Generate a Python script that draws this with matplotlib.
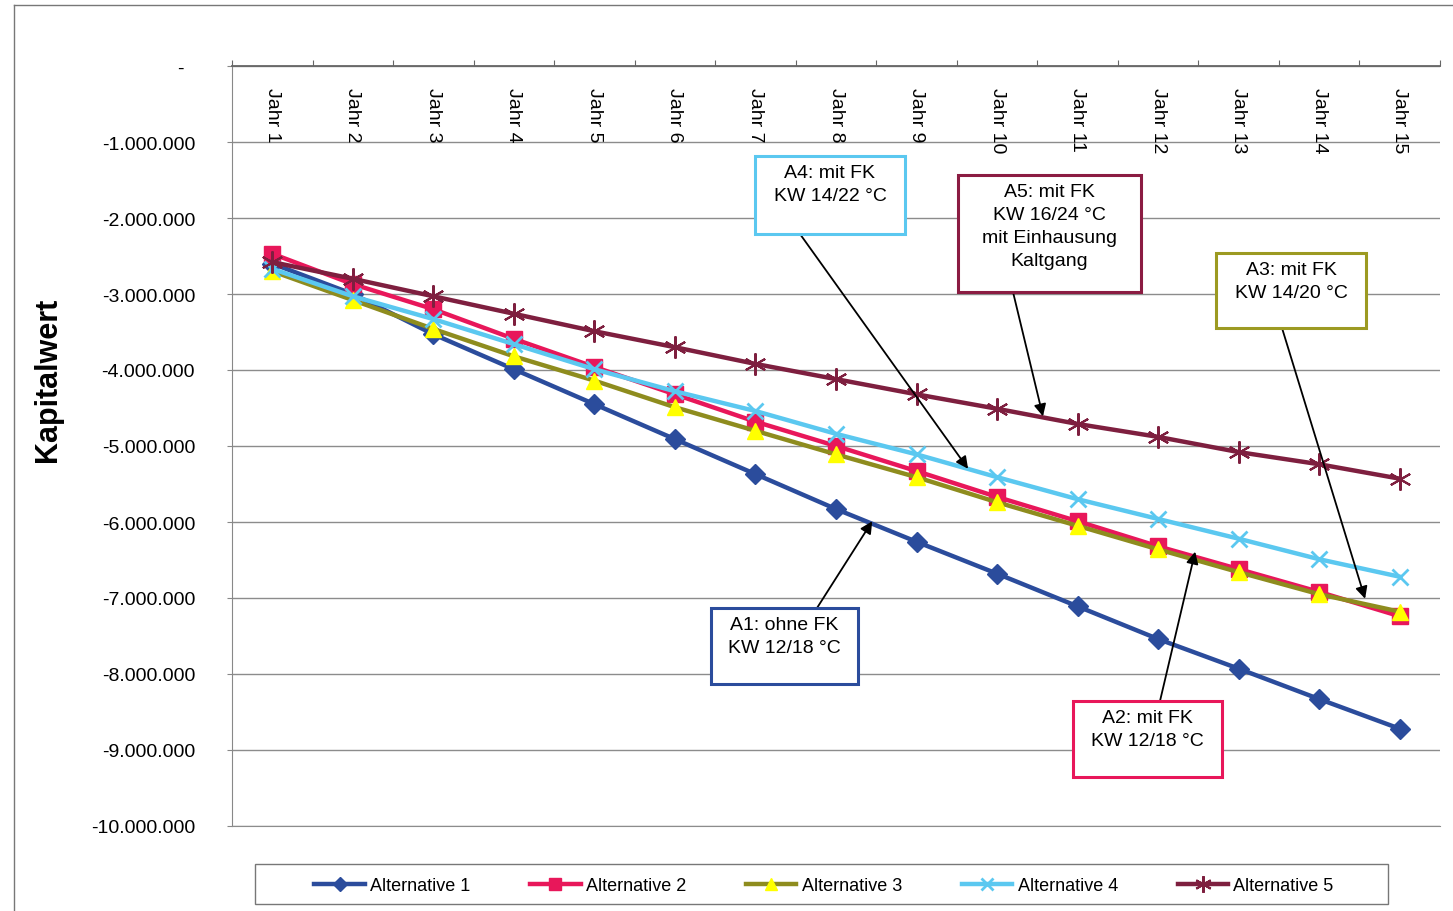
import matplotlib
matplotlib.use('Agg')
import matplotlib.pyplot as plt
import matplotlib.transforms as mtransforms
from matplotlib.lines import Line2D
from matplotlib.patches import Rectangle

plt.rcParams['font.family'] = ['Liberation Sans', 'DejaVu Sans']

W, H = 1453, 912

# Kapitalwert per year (EUR)
years = ['Jahr 1', 'Jahr 2', 'Jahr 3', 'Jahr 4', 'Jahr 5', 'Jahr 6', 'Jahr 7', 'Jahr 8',
         'Jahr 9', 'Jahr 10', 'Jahr 11', 'Jahr 12', 'Jahr 13', 'Jahr 14', 'Jahr 15']
alt1 = [-2600000, -3000000, -3530000, -3990000, -4450000, -4910000, -5370000, -5830000,
        -6260000, -6680000, -7110000, -7540000, -7930000, -8330000, -8720000]
alt2 = [-2470000, -2870000, -3200000, -3590000, -3960000, -4320000, -4680000, -5000000,
        -5330000, -5670000, -5990000, -6320000, -6620000, -6920000, -7240000]
alt3 = [-2700000, -3080000, -3460000, -3820000, -4140000, -4490000, -4800000, -5110000,
        -5410000, -5740000, -6050000, -6360000, -6660000, -6950000, -7180000]
alt4 = [-2670000, -3030000, -3330000, -3660000, -3990000, -4280000, -4540000, -4840000,
        -5110000, -5410000, -5700000, -5960000, -6220000, -6490000, -6720000]
alt5 = [-2580000, -2800000, -3030000, -3260000, -3490000, -3700000, -3920000, -4120000,
        -4320000, -4510000, -4710000, -4880000, -5080000, -5240000, -5430000]
series_names = ['Alternative 1', 'Alternative 2', 'Alternative 3', 'Alternative 4', 'Alternative 5']

yticks = [0, -1000000, -2000000, -3000000, -4000000, -5000000, -6000000, -7000000,
          -8000000, -9000000, -10000000]
ylabels = ['-  ', '-1.000.000', '-2.000.000', '-3.000.000', '-4.000.000', '-5.000.000',
           '-6.000.000', '-7.000.000', '-8.000.000', '-9.000.000', '-10.000.000']

c1, c2, c3, c4, c5 = '#2B4C9C', '#E8175A', '#8E8C1E', '#5BC8F0', '#7E1F3F'


def px(x, y):
    return (x / W, 1 - y / H)


fig = plt.figure(figsize=(W / 100, H / 100), dpi=100)
ax = fig.add_axes([232 / W, 1 - 827 / H, (1440 - 232) / W, (827 - 67) / H])

x = list(range(1, len(years) + 1))
ax.plot(x, alt1, color=c1, lw=3.2, marker='D', ms=10, mfc=c1, mec=c1, label=series_names[0])
ax.plot(x, alt2, color=c2, lw=3.2, marker='s', ms=11, mfc=c2, mec=c2, label=series_names[1])
ax.plot(x, alt3, color=c3, lw=3.2, marker='^', ms=12, mfc='#FFFF00', mec='#FFFF00', label=series_names[2])
ax.plot(x, alt4, color=c4, lw=3.2, marker='x', ms=11, mew=2, mec=c4, label=series_names[3])
ax.plot(x, alt5, color=c5, lw=3.2, marker=(6, 2, 0), ms=16, mew=1.5, mec=c5, label=series_names[4])

ax.set_xlim(0.5, len(years) + 0.5)
ax.set_ylim(-10000000, 0)
ax.set_yticks(yticks)
ax.set_yticklabels(ylabels, fontsize=14)
ax.tick_params(axis='y', length=3.6, pad=23, color='#888888')
ax.yaxis.grid(True, color='#8c8c8c', lw=1)
ax.set_axisbelow(True)

ax.xaxis.tick_top()
ax.set_xticks([i + 0.5 for i in range(len(years) + 1)])
ax.set_xticklabels([])
ax.tick_params(axis='x', direction='out', length=4, color='#666666')

ax.spines['right'].set_visible(False)
ax.spines['left'].set_color('#888888')
ax.spines['bottom'].set_color('#8c8c8c')
ax.spines['top'].set_color('#666666')
ax.spines['top'].set_linewidth(1.3)

lab_tr = mtransforms.offset_copy(ax.get_xaxis_transform(), fig=fig, y=-21, units='dots')
for i, lab in enumerate(years):
    ax.text(x[i], 1, lab, transform=lab_tr, rotation=270, ha='center', va='top', fontsize=14)

fig.text(48 / W, 1 - 380 / H, 'Kapitalwert', rotation=90, fontsize=22, fontweight='bold',
         ha='center', va='center')

# legend
h, l = ax.get_legend_handles_labels()
fig.legend(h, l, loc='center', bbox_to_anchor=px(824, 887), ncol=5, frameon=False,
           fontsize=13, handlelength=2.8, handletextpad=0.3, columnspacing=3.3,
           numpoints=1, markerscale=0.75)
fig.add_artist(Rectangle(px(255, 905), (1388 - 255) / W, 40 / H, transform=fig.transFigure,
                         fill=False, ec='#777777', lw=1))

# annotation boxes: text, colour, box (x0, y0, x1, y1) in px, arrow tail px, arrow head data
notes = [
    ('A4: mit FK\nKW 14/22 °C', c4, (755, 157, 905, 235), (800, 235), (9.64, -5300000)),
    ('A5: mit FK\nKW 16/24 °C\nmit Einhausung\nKaltgang', '#8B1C42', (958, 176, 1141, 293), (1013, 293), (10.57, -4610000)),
    ('A3: mit FK\nKW 14/20 °C', '#9C9A22', (1216, 254, 1366, 329), (1282, 329), (14.57, -7010000)),
    ('A1: ohne FK\nKW 12/18 °C', c1, (711, 609, 858, 685), (817, 609), (8.45, -5990000)),
    ('A2: mit FK\nKW 12/18 °C', c2, (1073, 702, 1222, 778), (1160, 702), (12.46, -6390000)),
]
for txt, col, (x0, y0, x1, y1), tail, head in notes:
    ax.annotate('', xy=head, xycoords='data', xytext=px(*tail), textcoords='figure fraction',
                arrowprops=dict(arrowstyle='-|>', color='black', lw=1.3, mutation_scale=18,
                                shrinkA=0, shrinkB=0), annotation_clip=False, zorder=6)
    fig.add_artist(Rectangle(px(x0, y1), (x1 - x0) / W, (y1 - y0) / H, transform=fig.transFigure,
                             fc='white', ec=col, lw=2.2, zorder=7))
    fig.text((x0 + x1) / 2 / W, 1 - (y0 + 8) / H, txt, ha='center', va='top', fontsize=14,
             linespacing=1.45, zorder=8)

# outer chart frame (scan shows only top and left edge)
fig.add_artist(Line2D([14 / W, 1], [1 - 6 / H, 1 - 6 / H], color='#777777', lw=1, transform=fig.transFigure))
fig.add_artist(Line2D([14 / W, 14 / W], [0, 1 - 6 / H], color='#777777', lw=1, transform=fig.transFigure))

fig.savefig('out.png', dpi=100)
